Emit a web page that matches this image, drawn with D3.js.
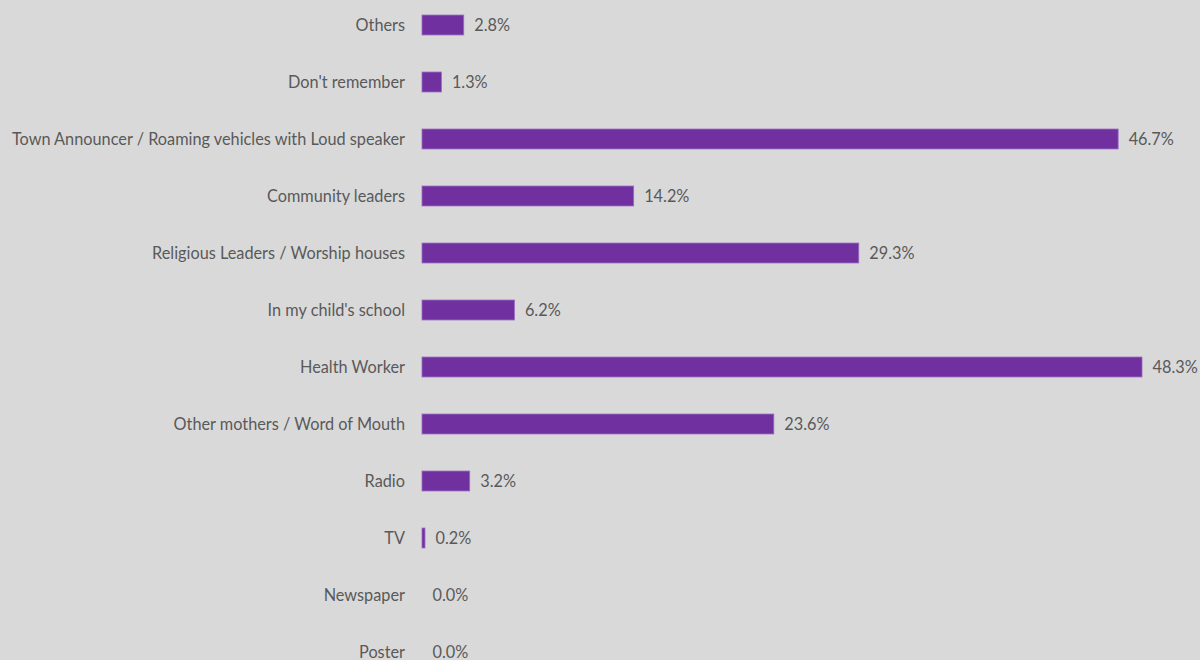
<!DOCTYPE html>
<html>
<head>
<meta charset="utf-8">
<script src="https://cdn.jsdelivr.net/npm/d3@7"></script>
<style>
  html, body { margin: 0; padding: 0; background: #d9d9d9; }
  svg { display: block; }
  text { font-family: Lato, "Open Sans", sans-serif; fill: #595959; }
</style>
</head>
<body>
<svg id="chart" width="1200" height="660"></svg>
<script>
// Sources of information, top to bottom
const categories = [
  "Others",
  "Don't remember",
  "Town Announcer / Roaming vehicles with Loud speaker",
  "Community leaders",
  "Religious Leaders / Worship houses",
  "In my child's school",
  "Health Worker",
  "Other mothers / Word of Mouth",
  "Radio",
  "TV",
  "Newspaper",
  "Poster"
];
const values = [2.8, 1.3, 46.7, 14.2, 29.3, 6.2, 48.3, 23.6, 3.2, 0.2, 0.0, 0.0];

const svg = d3.select("#chart");
const x0 = 422;

const x = d3.scaleLinear().domain([0, 48.3]).range([x0, 1142]);
const y = d3.scaleBand()
  .domain(categories)
  .range([-3.5, 680.5])
  .paddingInner(0.65)
  .paddingOuter(0.325);

const rows = svg.append("g").selectAll("g")
  .data(categories.map((c, i) => ({ c, v: values[i] })))
  .join("g");

rows.append("rect")
  .attr("x", x0)
  .attr("y", d => y(d.c))
  .attr("width", d => Math.max(0, x(d.v) - x0))
  .attr("height", y.bandwidth())
  .attr("fill", "#7030a0")
  .attr("stroke", d => d.v > 0 ? "#9a6cc0" : "none")
  .attr("stroke-width", 0.8);

// category labels, right-aligned against the bar baseline
rows.append("text")
  .attr("x", 405)
  .attr("y", d => y(d.c) + y.bandwidth() / 2)
  .attr("dy", "0.35em")
  .attr("text-anchor", "end")
  .attr("font-size", 16.3)
  .text(d => d.c);

// value labels at the end of each bar
rows.append("text")
  .attr("x", d => x(d.v) + 10.5)
  .attr("y", d => y(d.c) + y.bandwidth() / 2)
  .attr("dy", "0.35em")
  .attr("font-size", 16.3)
  .text(d => d3.format(".1f")(d.v) + "%");
</script>
</body>
</html>
